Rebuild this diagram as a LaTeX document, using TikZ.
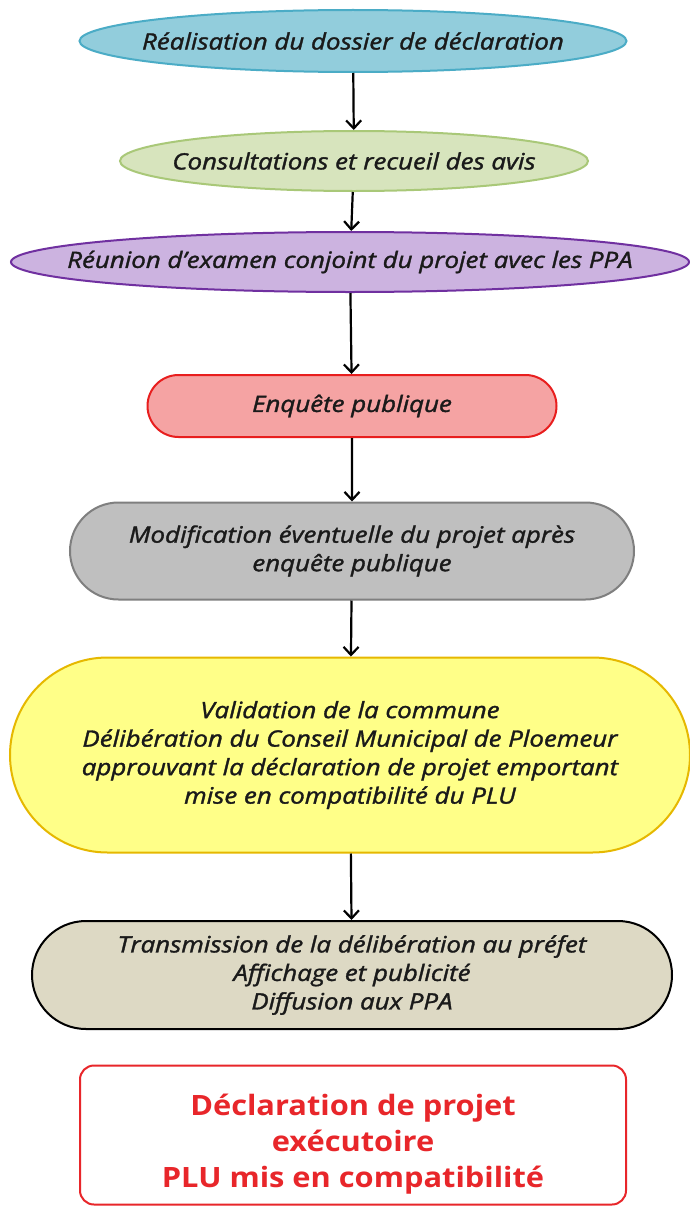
\documentclass[tikz,border=0pt]{standalone}
\usepackage{fontspec}
\setmainfont{Open Sans}[ItalicFeatures={FakeBold=1.5,FakeStretch=1.15},BoldFeatures={FakeStretch=1.1}]
\usetikzlibrary{shapes.geometric,shapes.misc,arrows.meta}
\definecolor{bluefill}{HTML}{92CDDC}
\definecolor{blueline}{HTML}{4BACC6}
\definecolor{greenfill}{HTML}{D7E4BD}
\definecolor{greenline}{HTML}{A9C878}
\definecolor{purplefill}{HTML}{CCB3E0}
\definecolor{purpleline}{HTML}{7030A0}
\definecolor{pinkfill}{HTML}{F5A3A3}
\definecolor{pinkline}{HTML}{E81E1E}
\definecolor{grayfill}{HTML}{BFBFBF}
\definecolor{grayline}{HTML}{7F7F7F}
\definecolor{yellowfill}{HTML}{FFFF88}
\definecolor{yellowline}{HTML}{E6B800}
\definecolor{beigefill}{HTML}{DDD9C4}
\definecolor{redtext}{HTML}{E8262A}
\definecolor{txt}{HTML}{1A1A1A}
\tikzset{
  box/.style={draw, line width=2pt, align=center, inner sep=0pt, text=txt,
    font=\itshape\fontsize{22.5}{28.5}\selectfont},
  oval/.style={box, ellipse, inner xsep=-110pt},
  pill/.style={box, rounded rectangle},
  flow/.style={draw=black, line width=2.2pt, -{Straight Barb[length=8pt,width=15pt,line width=2.2pt]}},
  resultbox/.style={draw=redtext, line width=2pt, rounded corners=14pt, fill=white, inner sep=0pt},
  resulttext/.style={align=center, text=redtext, inner sep=0pt, font=\bfseries\fontsize{28}{36}\selectfont},
}
\begin{document}
\begin{tikzpicture}[x=1pt,y=-1pt]
\useasboundingbox (0,0) rectangle (690,1207);
\fill[white] (0,0) rectangle (690,1207);
\node[oval, fill=bluefill, draw=blueline, minimum width=547pt, minimum height=62pt] (n1) at (353,41) {Réalisation du dossier de déclaration};
\node[oval, fill=greenfill, draw=greenline, minimum width=468pt, minimum height=60pt] (n2) at (354,161) {Consultations et recueil des avis};
\node[oval, fill=purplefill, draw=purpleline, minimum width=678pt, minimum height=60pt] (n3) at (350,262) {Réunion d’examen conjoint du projet avec les PPA};
\node[pill, fill=pinkfill, draw=pinkline, minimum width=409pt, minimum height=62pt] (n4) at (352,406) {Enquête publique};
\node[pill, fill=grayfill, draw=grayline, minimum width=564pt, minimum height=97pt] (n5) at (352,551) {Modification éventuelle du projet après\\enquête publique};
\node[pill, fill=yellowfill, draw=yellowline, minimum width=680pt, minimum height=195pt] (n6) at (350,755) {Validation de la commune\\Délibération du Conseil Municipal de Ploemeur\\approuvant la déclaration de projet emportant\\mise en compatibilité du PLU};
\node[pill, fill=beigefill, draw=black, minimum width=640pt, minimum height=108pt] (n7) at (352,975) {Transmission de la délibération au préfet\\Affichage et publicité\\Diffusion aux PPA};
\node[resultbox, minimum width=546pt, minimum height=139pt] (n8) at (353,1135) {};
\node[resulttext] (n8t) at (353,1144) {Déclaration de projet\\exécutoire\\PLU mis en compatibilité};
\draw[flow] (n1) -- (n2);
\draw[flow] (n2) -- (n3);
\draw[flow] (n3) -- (n4);
\draw[flow] (n4) -- (n5);
\draw[flow] (n5) -- (n6);
\draw[flow] (n6) -- (n7);
\end{tikzpicture}
\end{document}
